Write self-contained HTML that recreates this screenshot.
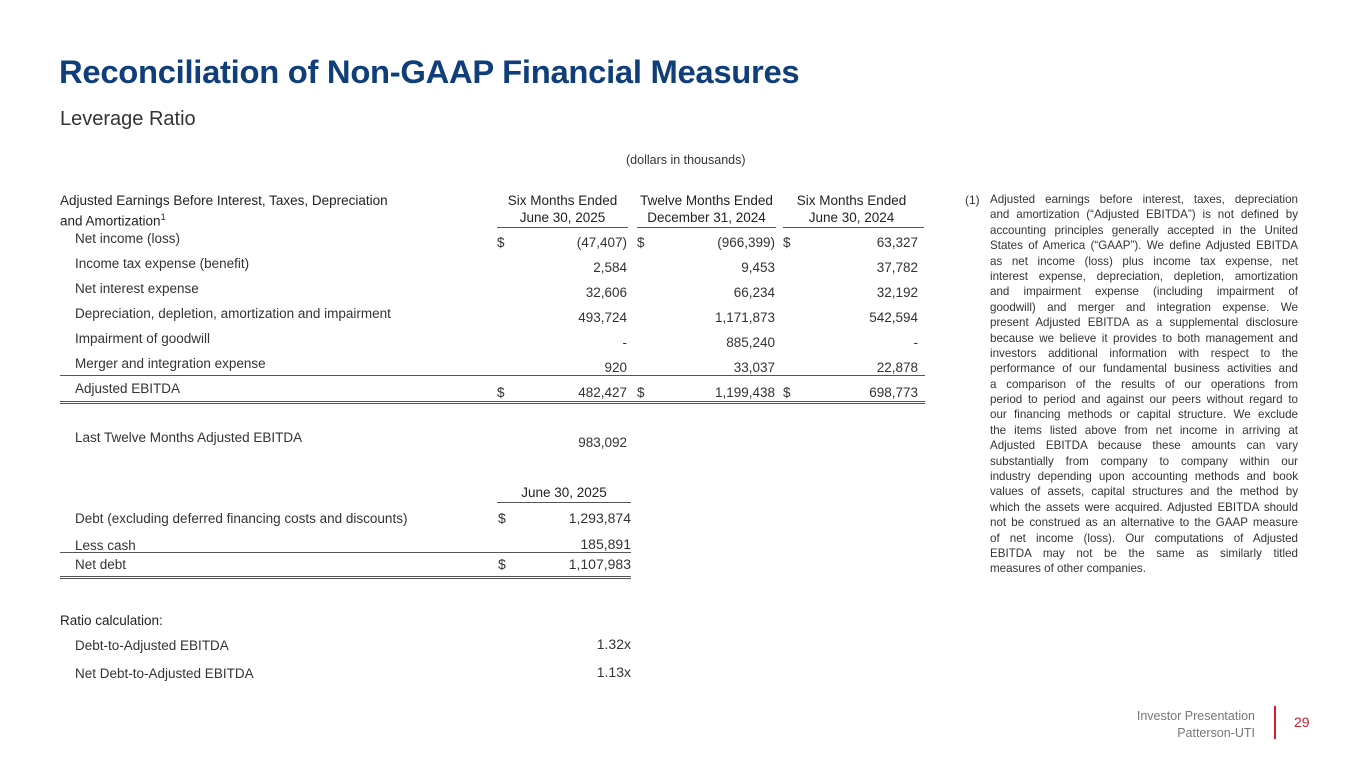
<!DOCTYPE html>
<html><head><meta charset="utf-8"><style>
body{margin:0;width:1365px;height:768px;background:#fff;position:relative;overflow:hidden;font-family:"Liberation Sans",sans-serif;color:#333}
.a{position:absolute;white-space:nowrap;font-size:13.5px;line-height:16px}
.r{text-align:right}
.c{text-align:center}
.hl{position:absolute;height:1px;background:#555}
.b{color:#222}
.fn{position:absolute;left:990px;top:192px;width:308px;font-size:11.6px;line-height:15.4px;color:#333}
.fn div{text-align:justify;text-align-last:justify;white-space:nowrap;height:15.4px;overflow:visible}
.fn div.l{text-align-last:left}
</style></head><body>
<div class="a" style="left:59px;top:53px;font-size:32.8px;line-height:38px;font-weight:bold;color:#0f3e7a;letter-spacing:-0.3px">Reconciliation of Non-GAAP Financial Measures</div>
<div class="a" style="left:60px;top:107px;font-size:20px;line-height:24px;color:#333">Leverage Ratio</div>
<div class="a" style="left:626px;top:152px;font-size:12.5px">(dollars in thousands)</div>

<div class="a b" style="left:60px;top:192px;line-height:17px">Adjusted Earnings Before Interest, Taxes, Depreciation<br>and Amortization<sup style="font-size:9px">1</sup></div>
<div class="a c b" style="left:490px;width:145px;top:192px;line-height:17px">Six Months Ended<br>June 30, 2025</div>
<div class="a c b" style="left:634px;width:145px;top:192px;line-height:17px">Twelve Months Ended<br>December 31, 2024</div>
<div class="a c b" style="left:779px;width:145px;top:192px;line-height:17px">Six Months Ended<br>June 30, 2024</div>
<div class="hl" style="left:497px;width:131px;top:227px"></div>
<div class="hl" style="left:637px;width:139px;top:227px"></div>
<div class="hl" style="left:783px;width:141px;top:227px"></div>

<div class="a" style="left:75px;top:231px">Net income (loss)</div>
<div class="a" style="left:75px;top:256px">Income tax expense (benefit)</div>
<div class="a" style="left:75px;top:281px">Net interest expense</div>
<div class="a" style="left:75px;top:306px">Depreciation, depletion, amortization and impairment</div>
<div class="a" style="left:75px;top:331px">Impairment of goodwill</div>
<div class="a" style="left:75px;top:356px">Merger and integration expense</div>
<div class="a" style="left:75px;top:381px">Adjusted EBITDA</div>

<div class="a" style="left:497px;top:235px">$</div><div class="a" style="left:637px;top:235px">$</div><div class="a" style="left:783px;top:235px">$</div>
<div class="a r" style="right:738px;top:235px">(47,407)</div>
<div class="a r" style="right:590px;top:235px">(966,399)</div>
<div class="a r" style="right:447px;top:235px">63,327</div>
<div class="a r" style="right:738px;top:260px">2,584</div>
<div class="a r" style="right:590px;top:260px">9,453</div>
<div class="a r" style="right:447px;top:260px">37,782</div>
<div class="a r" style="right:738px;top:285px">32,606</div>
<div class="a r" style="right:590px;top:285px">66,234</div>
<div class="a r" style="right:447px;top:285px">32,192</div>
<div class="a r" style="right:738px;top:310px">493,724</div>
<div class="a r" style="right:590px;top:310px">1,171,873</div>
<div class="a r" style="right:447px;top:310px">542,594</div>
<div class="a r" style="right:738px;top:335px">-</div>
<div class="a r" style="right:590px;top:335px">885,240</div>
<div class="a r" style="right:447px;top:335px">-</div>
<div class="a r" style="right:738px;top:360px">920</div>
<div class="a r" style="right:590px;top:360px">33,037</div>
<div class="a r" style="right:447px;top:360px">22,878</div>
<div class="hl" style="left:60px;width:865px;top:375px"></div>
<div class="a" style="left:497px;top:385px">$</div><div class="a" style="left:637px;top:385px">$</div><div class="a" style="left:783px;top:385px">$</div>
<div class="a r" style="right:738px;top:385px">482,427</div>
<div class="a r" style="right:590px;top:385px">1,199,438</div>
<div class="a r" style="right:447px;top:385px">698,773</div>
<div class="hl" style="left:60px;width:865px;top:401px"></div>
<div class="hl" style="left:60px;width:865px;top:403px"></div>

<div class="a" style="left:75px;top:430px">Last Twelve Months Adjusted EBITDA</div>
<div class="a r" style="right:738px;top:435px">983,092</div>

<div class="a c b" style="left:497px;width:134px;top:485px">June 30, 2025</div>
<div class="hl" style="left:497px;width:134px;top:502px"></div>
<div class="a" style="left:75px;top:511px">Debt (excluding deferred financing costs and discounts)</div>
<div class="a" style="left:498px;top:510px;font-size:14px">$</div>
<div class="a r" style="right:734px;top:510px;font-size:14px">1,293,874</div>
<div class="a" style="left:75px;top:538px">Less cash</div>
<div class="a r" style="right:734px;top:536px;font-size:14px">185,891</div>
<div class="hl" style="left:60px;width:571px;top:552px"></div>
<div class="a" style="left:75px;top:557px">Net debt</div>
<div class="a" style="left:498px;top:556px;font-size:14px">$</div>
<div class="a r" style="right:734px;top:556px;font-size:14px">1,107,983</div>
<div class="hl" style="left:60px;width:571px;top:576px"></div>
<div class="hl" style="left:60px;width:571px;top:578px"></div>

<div class="a b" style="left:60px;top:613px">Ratio calculation:</div>
<div class="a" style="left:75px;top:638px">Debt-to-Adjusted EBITDA</div>
<div class="a r" style="right:734px;top:636px;font-size:14px">1.32x</div>
<div class="a" style="left:75px;top:666px">Net Debt-to-Adjusted EBITDA</div>
<div class="a r" style="right:734px;top:664px;font-size:14px">1.13x</div>

<div class="a" style="left:965px;top:192px;font-size:12px">(1)</div>
<div class="fn">
<div>Adjusted earnings before interest, taxes, depreciation</div>
<div>and amortization (“Adjusted EBITDA”) is not defined by</div>
<div>accounting principles generally accepted in the United</div>
<div>States of America (“GAAP”). We define Adjusted EBITDA</div>
<div>as net income (loss) plus income tax expense, net</div>
<div>interest expense, depreciation, depletion, amortization</div>
<div>and impairment expense (including impairment of</div>
<div>goodwill) and merger and integration expense. We</div>
<div>present Adjusted EBITDA as a supplemental disclosure</div>
<div>because we believe it provides to both management and</div>
<div>investors additional information with respect to the</div>
<div>performance of our fundamental business activities and</div>
<div>a comparison of the results of our operations from</div>
<div>period to period and against our peers without regard to</div>
<div>our financing methods or capital structure. We exclude</div>
<div>the items listed above from net income in arriving at</div>
<div>Adjusted EBITDA because these amounts can vary</div>
<div>substantially from company to company within our</div>
<div>industry depending upon accounting methods and book</div>
<div>values of assets, capital structures and the method by</div>
<div>which the assets were acquired. Adjusted EBITDA should</div>
<div>not be construed as an alternative to the GAAP measure</div>
<div>of net income (loss). Our computations of Adjusted</div>
<div>EBITDA may not be the same as similarly titled</div>
<div class="l">measures of other companies.</div>
</div>

<div class="a r" style="right:110px;top:708px;font-size:12.5px;color:#777">Investor Presentation</div>
<div class="a r" style="right:110px;top:725px;font-size:12.5px;color:#777">Patterson-UTI</div>
<div style="position:absolute;left:1274px;top:706px;width:2px;height:33px;background:#d0202e"></div>
<div class="a" style="left:1294px;top:714px;font-size:14px;color:#c8202e">29</div>
</body></html>
